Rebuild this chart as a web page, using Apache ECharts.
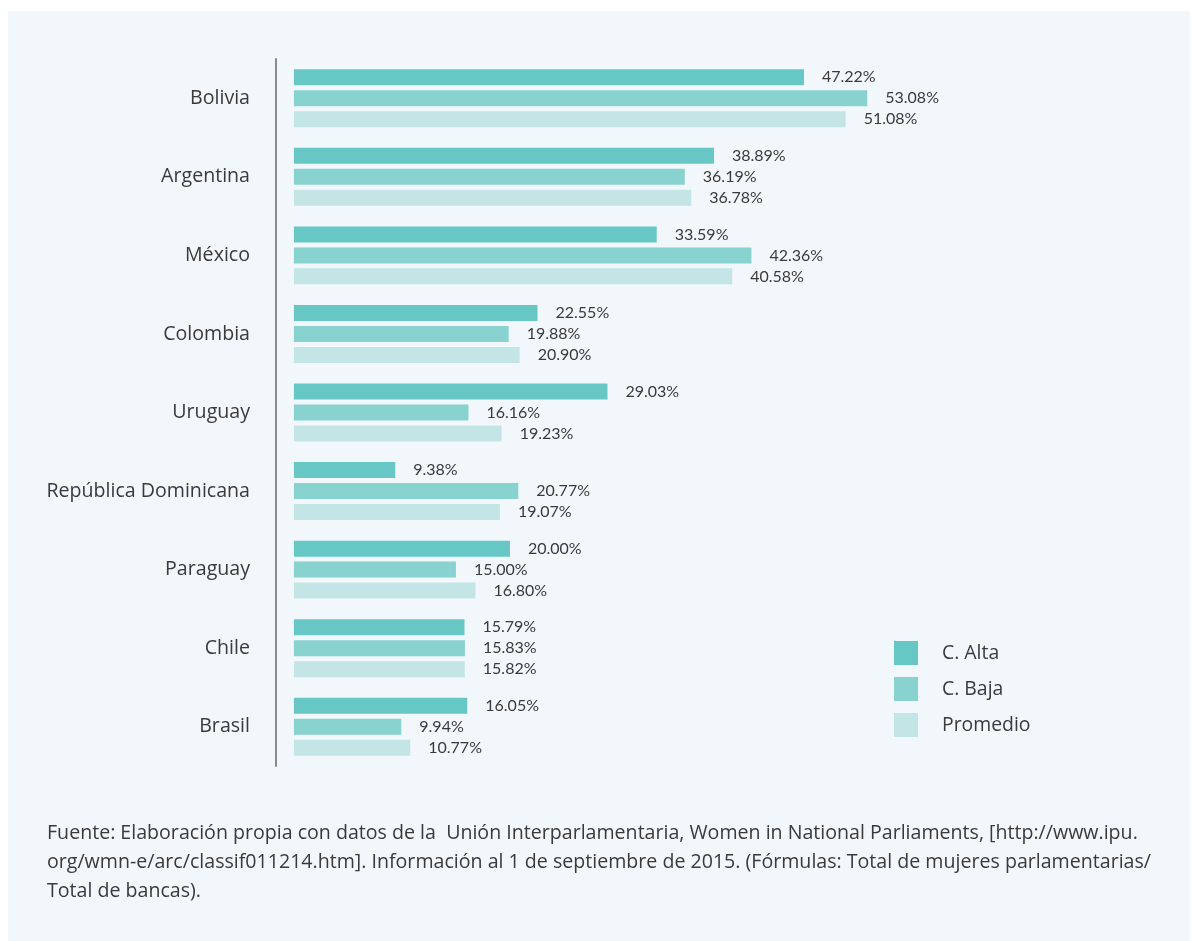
<!DOCTYPE html>
<html>
<head>
<meta charset="utf-8">
<script src="https://cdn.jsdelivr.net/npm/echarts@6/dist/echarts.min.js"></script>
<style>
  html, body { margin: 0; padding: 0; background: #ffffff; }
  #chart { position: absolute; left: 8px; top: 11px; width: 1182px; height: 930px; background: #f2f7fb; }
</style>
</head>
<body>
<div id="chart"></div>
<script>
var paises = ['Bolivia', 'Argentina', 'México', 'Colombia', 'Uruguay', 'República Dominicana', 'Paraguay', 'Chile', 'Brasil']
var cAlta = [47.22, 38.89, 33.59, 22.55, 29.03, 9.38, 20.00, 15.79, 16.05]
var cBaja = [53.08, 36.19, 42.36, 19.88, 16.16, 20.77, 15.00, 15.83, 9.94]
var promedio = [51.08, 36.78, 40.58, 20.90, 19.23, 19.07, 16.80, 15.82, 10.77]
var nombres = ['C. Alta', 'C. Baja', 'Promedio']
var colores = ['#66c7c4', '#88d2d0', '#c3e5e5']

var fuente = 'Fuente: Elaboración propia con datos de la  Unión Interparlamentaria, Women in National Parliaments, [http://www.ipu.\n' +
  'org/wmn-e/arc/classif011214.htm]. Información al 1 de septiembre de 2015. (Fórmulas: Total de mujeres parlamentarias/\n' +
  'Total de bancas).'

var fontFam = '"Open Sans", Lato, sans-serif'
var chart = echarts.init(document.getElementById('chart'))

function serie(i, datos) {
  return {
    name: nombres[i],
    type: 'bar',
    data: datos,
    barWidth: 16,
    barGap: '31%',
    itemStyle: { color: colores[i] },
    label: {
      show: true,
      position: 'right',
      distance: 18,
      color: '#3a3a3a',
      fontSize: 16,
      fontFamily: 'Lato, sans-serif',
      formatter: function (p) { return p.value.toFixed(2) + '%' }
    }
  }
}

var option = {
  animation: false,
  title: {
    text: fuente,
    left: 34,
    top: 803,
    textStyle: { fontSize: 19.6, fontWeight: 'normal', color: '#3a3a3a', lineHeight: 29, fontFamily: fontFam }
  },
  legend: {
    orient: 'vertical',
    left: 881,
    top: 625,
    itemWidth: 24,
    itemHeight: 24,
    itemGap: 12,
    icon: 'rect',
    textStyle: { fontSize: 19.4, color: '#3a3a3a', fontFamily: fontFam, padding: [0, 0, 0, 19] },
    data: nombres
  },
  grid: { left: 268, top: 48, bottom: 175, right: 32, containLabel: false },
  xAxis: {
    type: 'value',
    min: -1.66,
    max: 80,
    show: false
  },
  yAxis: {
    type: 'category',
    inverse: true,
    data: paises,
    axisLine: { onZero: false, lineStyle: { color: '#8a8a8a', width: 2 } },
    axisTick: { show: false },
    axisLabel: { margin: 26, fontSize: 19.6, color: '#3a3a3a', fontFamily: fontFam }
  },
  series: [serie(0, cAlta), serie(1, cBaja), serie(2, promedio)]
}
chart.setOption(option)
</script>
</body>
</html>
